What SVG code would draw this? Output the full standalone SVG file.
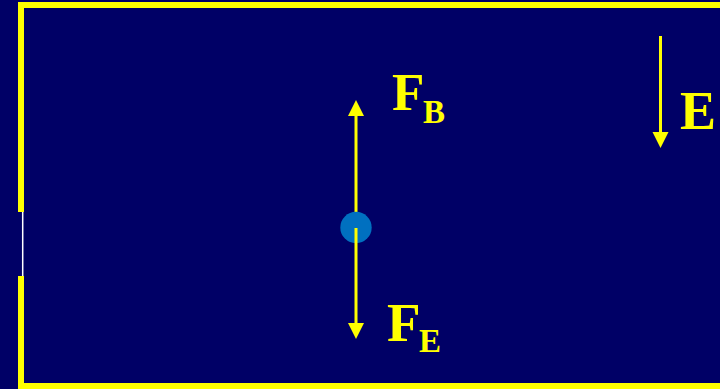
<svg xmlns="http://www.w3.org/2000/svg" width="720" height="389" viewBox="0 0 720 389">
<defs>
<style>
.lbl{font-family:"Liberation Serif","Times New Roman",serif;font-weight:bold;fill:#FFFF00}
.arr{stroke:#FFFF00;stroke-width:3;fill:none}
.head{fill:#FFFF00}
</style>
</defs>
<rect x="0" y="0" width="720" height="389" fill="#000066"/>
<g id="frame">
<path d="M21,212 V5 H730 V386 H21 V276" fill="none" stroke="#FFFF00" stroke-width="6"/>
<line x1="22.7" y1="212" x2="22.7" y2="276" stroke="#FFFFFF" stroke-width="1.5"/>
</g>
<g id="connectors">
<g id="arrow-FB">
<line class="arr" x1="356" y1="228" x2="356" y2="114"/>
<polygon class="head" points="356,100 348,116 364,116"/>
</g>
</g>
<g id="charge">
<circle cx="356" cy="227.5" r="15.7" fill="#0070C0"/>
</g>
<g id="connectors2">
<g id="arrow-FE">
<line class="arr" x1="356" y1="228" x2="356" y2="325"/>
<polygon class="head" points="356,339 348,323 364,323"/>
</g>
<g id="arrow-E">
<line class="arr" x1="660.5" y1="36" x2="660.5" y2="134"/>
<polygon class="head" points="660.5,148 652.5,132 668.5,132"/>
</g>
</g>
<g id="label-FB">
<text class="lbl" x="392" y="109.5" font-size="53">F</text>
<text class="lbl" x="423" y="123.3" font-size="33">B</text>
</g>
<g id="label-FE">
<text class="lbl" x="387" y="340.5" font-size="55">F</text>
<text class="lbl" x="419" y="352.3" font-size="33">E</text>
</g>
<g id="label-E">
<text class="lbl" x="680" y="129" font-size="54">E</text>
</g>
</svg>
